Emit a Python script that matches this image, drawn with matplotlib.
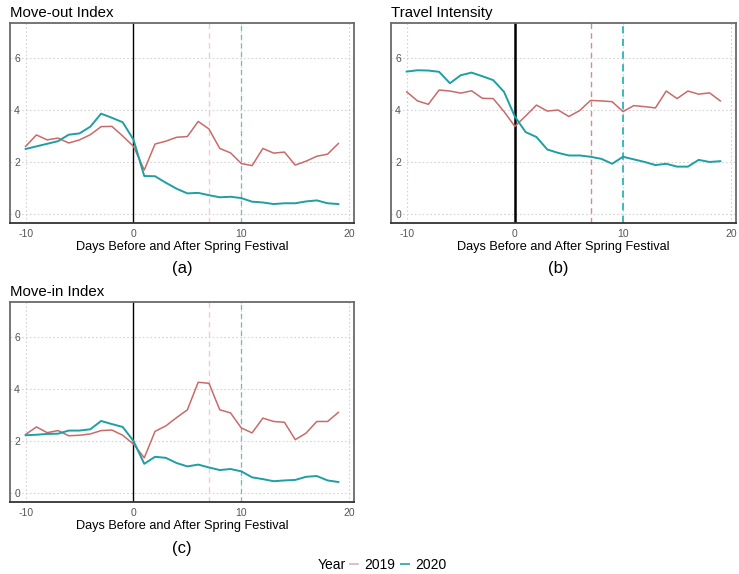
import matplotlib
matplotlib.use("Agg")
import matplotlib.pyplot as plt
from matplotlib.lines import Line2D

plt.rcParams["font.family"] = ["Liberation Sans", "DejaVu Sans"]
plt.rcParams["axes.unicode_minus"] = False

days = list(range(-10, 20))

# Move-out index
out_2019 = [2.6, 3.04, 2.85, 2.92, 2.73, 2.85, 3.05, 3.36, 3.37, 3.0,
            2.6, 1.69, 2.69, 2.8, 2.95, 2.98, 3.56, 3.27, 2.52, 2.35,
            1.94, 1.86, 2.52, 2.34, 2.38, 1.88, 2.03, 2.22, 2.3, 2.71]
out_2020 = [2.5, 2.6, 2.7, 2.8, 3.05, 3.1, 3.36, 3.86, 3.7, 3.53,
            2.86, 1.46, 1.45, 1.2, 0.97, 0.79, 0.81, 0.72, 0.64, 0.66,
            0.61, 0.47, 0.44, 0.38, 0.41, 0.41, 0.48, 0.52, 0.41, 0.38]

# Travel intensity
trav_2019 = [4.7, 4.35, 4.22, 4.77, 4.73, 4.65, 4.74, 4.45, 4.44, 3.94,
             3.37, 3.77, 4.19, 3.96, 4.0, 3.75, 3.98, 4.37, 4.35, 4.32,
             3.94, 4.17, 4.13, 4.08, 4.73, 4.44, 4.73, 4.61, 4.66, 4.35]
trav_2020 = [5.48, 5.53, 5.52, 5.47, 5.03, 5.34, 5.44, 5.3, 5.15, 4.7,
             3.75, 3.15, 2.96, 2.48, 2.35, 2.25, 2.25, 2.2, 2.12, 1.93,
             2.2, 2.1, 2.0, 1.88, 1.93, 1.82, 1.82, 2.08, 2.0, 2.03]

# Move-in index
in_2019 = [2.25, 2.54, 2.32, 2.4, 2.2, 2.22, 2.27, 2.4, 2.42, 2.22,
           1.88, 1.35, 2.37, 2.58, 2.9, 3.2, 4.26, 4.22, 3.2, 3.08,
           2.5, 2.31, 2.88, 2.75, 2.72, 2.05, 2.3, 2.75, 2.75, 3.1]
in_2020 = [2.22, 2.24, 2.27, 2.28, 2.4, 2.4, 2.45, 2.77, 2.65, 2.54,
           2.0, 1.12, 1.39, 1.35, 1.15, 1.02, 1.09, 0.98, 0.88, 0.92,
           0.83, 0.6, 0.53, 0.45, 0.48, 0.5, 0.62, 0.65, 0.48, 0.42]

titles = ["Move-out Index", "Travel Intensity", "Move-in Index"]
captions = ["(a)", "(b)", "(c)"]
years = ["2019", "2020"]

C19 = "#c96a6a"
C20 = "#1f9ea3"

W, H = 739, 574
fig = plt.figure(figsize=(W / 100, H / 100), dpi=100)


def px_axes(left, top, right, bottom):
    return fig.add_axes([left / W, 1 - bottom / H, (right - left) / W, (bottom - top) / H])


def draw_panel(ax, title, y19, y20, strong=False):
    ax.set_xlim(-11.45, 20.45)
    ax.set_ylim(-0.35, 7.35)
    for x in (-10, 10, 20):
        ax.axvline(x, color="#d4d4d4", lw=0.8, ls=(0, (1.5, 2)), zorder=0)
    for y in (0, 2, 4, 6):
        ax.axhline(y, color="#d4d4d4", lw=0.8, ls=(0, (1.5, 2)), zorder=0)
    ax.axvline(0, color="black", lw=1.8 if strong else 1.0, zorder=1)
    ax.axvline(7, color="#d98a8a" if strong else "#f0cccc", lw=1.0,
               ls=(0, (4, 3)), zorder=1)
    ax.axvline(10, color="#2db3ba" if strong else "#6cbdc2", lw=1.3 if strong else 0.9,
               ls=(0, (4, 3)), zorder=1)
    ax.plot(days, y19, color=C19, lw=1.1, zorder=3)
    ax.plot(days, y20, color=C20, lw=1.4, zorder=3)

    ax.set_xticks([-10, 0, 10, 20])
    ax.set_yticks([0, 2, 4, 6])
    ax.tick_params(axis="both", length=0, labelsize=7.5, colors="#555555")
    ax.tick_params(axis="x", pad=4)
    ax.tick_params(axis="y", pad=-3)
    for lab in ax.get_yticklabels():
        lab.set_horizontalalignment("left")
    for sp in ax.spines.values():
        sp.set_color("#6a6a6a")
        sp.set_linewidth(1.3)
    ax.spines["bottom"].set_color("#333333")
    ax.set_xlabel("Days Before and After Spring Festival", fontsize=9.2, labelpad=2)
    ax.set_title(title, loc="left", fontsize=10.8, pad=4, x=0.0)


ax_a = px_axes(10, 23, 354, 223)
ax_b = px_axes(391, 23, 736, 223)
ax_c = px_axes(10, 302, 354, 502)

draw_panel(ax_a, titles[0], out_2019, out_2020)
draw_panel(ax_b, titles[1], trav_2019, trav_2020, strong=True)
draw_panel(ax_c, titles[2], in_2019, in_2020)

fig.text(182 / W, 1 - 269 / H, captions[0], ha="center", va="center", fontsize=12)
fig.text(558 / W, 1 - 269 / H, captions[1], ha="center", va="center", fontsize=12)
fig.text(182 / W, 1 - 549 / H, captions[2], ha="center", va="center", fontsize=12)

fig.text(318 / W, 1 - 565 / H, "Year", ha="left", va="center", fontsize=10)
handles = [Line2D([], [], color="#d8b4b4", lw=1.2),
           Line2D([], [], color="#3fb0b6", lw=1.4)]
fig.legend(handles, years, loc="center left", bbox_to_anchor=(350 / W, 1 - 565 / H),
           ncol=2, frameon=False, fontsize=10, handlelength=0.6,
           handletextpad=0.45, columnspacing=0.4, borderpad=0, borderaxespad=0)

fig.savefig("out.png", dpi=100)
